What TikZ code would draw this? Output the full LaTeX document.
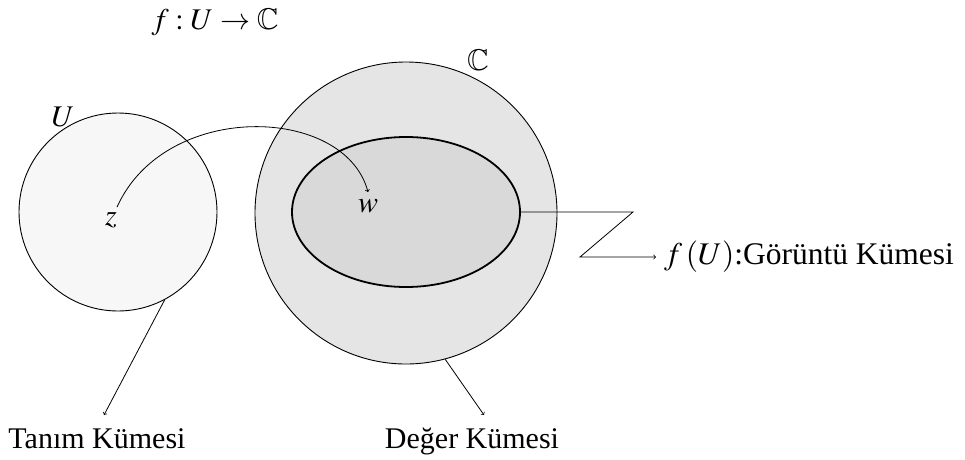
\documentclass[tikz,border=0pt]{standalone}
\usepackage{amssymb}
\usepackage{mathptmx}
\usepackage{fontspec}
\setmainfont{Liberation Serif}
\usetikzlibrary{shapes.geometric}
\begin{document}
\begin{tikzpicture}[x=1pt,y=-1pt,
  every node/.style={font=\fontsize{30}{34}\selectfont},
  setcircle/.style={circle,draw,line width=0.9pt,inner sep=0pt},
  lbl/.style={inner sep=0pt},
  conn/.style={line width=0.8pt},
  >=to]
\useasboundingbox (0,0) rectangle (965,459);
\node[setcircle,fill=black!3,minimum size=198pt] (U) at (118,212) {};
\node[setcircle,fill=black!10,minimum size=302pt] (C) at (406,213) {};
\node[ellipse,draw,line width=1.8pt,fill=black!15,minimum width=228pt,minimum height=150pt,inner sep=0pt] (img) at (406,212) {};
\node[lbl] (z) at (111,220) {$z$};
\node[lbl] (w) at (368,206) {$w$};
\node[lbl] (Ulbl) at (63,117) {$U$};
\node[lbl] (Clbl) at (478,60) {$\mathbb{C}$};
\node[lbl] (map) at (215,22) {$f:U\to\mathbb{C}$};
\node[lbl,anchor=west,inner xsep=8pt,font=\fontsize{31.5}{34}\selectfont] (gor) at (656,257) {$f\left(U\right)$:Görüntü Kümesi};
\node[lbl,anchor=north] (tanim) at (97,428) {Tanım Kümesi};
\node[lbl,anchor=north] (deger) at (472,428) {Değer Kümesi};
\coordinate (zz) at (580,257);
\coordinate (zk) at (633,212);
\draw[conn,->] ([yshift=5pt]z.north east) .. controls (165,100) and (345,105) .. ([yshift=7pt]w.north);
\draw[conn,->] (img.east) -- (zk) -- (zz) -- (gor.west);
\draw[conn,->] (U.-62) -- ([xshift=7pt,yshift=13pt]tanim.north);
\draw[conn,->] (C.-75) -- ([xshift=12pt,yshift=13pt]deger.north);
\end{tikzpicture}
\end{document}
